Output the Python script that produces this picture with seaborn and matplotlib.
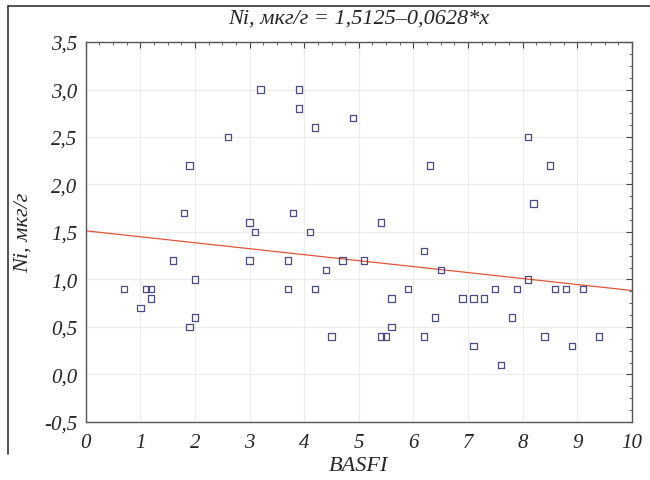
import numpy as np
import pandas as pd
import seaborn as sns
import matplotlib.pyplot as plt
from matplotlib.ticker import FuncFormatter, MultipleLocator
from matplotlib.lines import Line2D

basfi = [0.7, 1.0, 1.1, 1.2, 1.2, 1.6, 1.8, 1.9, 1.9, 2.0, 2.0, 2.6, 3.0, 3.1, 3.0, 3.2,
         3.7, 3.7, 3.8, 3.9, 3.9, 4.1, 4.2, 4.2, 4.4, 4.5, 4.7, 4.9, 5.1, 5.4, 5.4, 5.5,
         5.6, 5.6, 5.9, 6.2, 6.2, 6.3, 6.4, 6.5, 6.9, 7.1, 7.1, 7.3, 7.5, 7.6, 7.8, 7.9,
         8.1, 8.1, 8.2, 8.4, 8.5, 8.6, 8.8, 8.9, 9.1, 9.4]
ni = [0.9, 0.7, 0.9, 0.9, 0.8, 1.2, 1.7, 2.2, 0.5, 1.0, 0.6, 2.5, 1.6, 1.5, 1.2, 3.0,
      1.2, 0.9, 1.7, 3.0, 2.8, 1.5, 2.6, 0.9, 1.1, 0.4, 1.2, 2.7, 1.2, 1.6, 0.4, 0.4,
      0.8, 0.5, 0.9, 1.3, 0.4, 2.2, 0.6, 1.1, 0.8, 0.8, 0.3, 0.8, 0.9, 0.1, 0.6, 0.9,
      1.0, 2.5, 1.8, 0.4, 2.2, 0.9, 0.9, 0.3, 0.9, 0.4]
intercept = 1.5125
slope = -0.0628

df = pd.DataFrame({'BASFI': basfi, 'Ni': ni})

sns.set_style('white')
plt.rcParams['font.family'] = ['Liberation Serif', 'DejaVu Serif']
plt.rcParams['font.style'] = 'italic'

fig = plt.figure(figsize=(6.5, 4.81), dpi=100)
ax = fig.add_axes([0.132, 0.1206, 0.840, 0.7900])

# regression line
xl = np.array([0, 10])
ax.plot(xl, intercept + slope * xl, color='#e0553a', lw=0.9, zorder=2)
sns.scatterplot(data=df, x='BASFI', y='Ni', ax=ax, marker='s', s=20,
                facecolor='none', edgecolor='#4a4a85', linewidth=0.9, zorder=3)

ax.set_xlim(0, 10)
ax.set_ylim(-0.5, 3.5)
ax.xaxis.set_major_locator(MultipleLocator(1))
ax.yaxis.set_major_locator(MultipleLocator(0.5))
ax.xaxis.set_minor_locator(MultipleLocator(0.25))
ax.yaxis.set_minor_locator(MultipleLocator(0.125))
ax.xaxis.set_major_formatter(FuncFormatter(lambda v, p: f"{v:.0f}"))
ax.yaxis.set_major_formatter(FuncFormatter(lambda v, p: f"{v:.1f}".replace('.', ',')))
ax.grid(True, which='major', color='#ececec', lw=0.8)
ax.tick_params(which='both', direction='in', top=True, right=True, labelsize=15, color='#444444')
ax.tick_params(which='major', length=4)
ax.tick_params(which='minor', length=2)
ax.tick_params(axis='x', pad=8)
ax.tick_params(axis='y', pad=6)
for s in ax.spines.values():
    s.set_color('#555555')
    s.set_linewidth(1.0)

ax.set_title('Ni, мкг/г = 1,5125–0,0628*x', fontsize=16, pad=14)
ax.set_xlabel('BASFI', fontsize=16, labelpad=3)
ax.set_ylabel('Ni, мкг/г', fontsize=16, labelpad=8)

# outer frame
fig.add_artist(Line2D([8 / 650, 1.0], [1 - 7 / 481, 1 - 7 / 481], color='#333333', lw=1.2))
fig.add_artist(Line2D([8 / 650, 8 / 650], [1 - 7 / 481, 1 - 455 / 481], color='#333333', lw=1.2))

fig.savefig('out.png', dpi=100)
